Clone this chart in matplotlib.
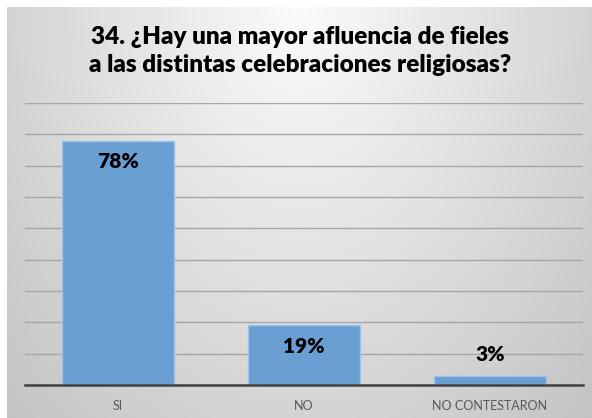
import numpy as np
import matplotlib.pyplot as plt

categories = ['SI', 'NO', 'NO CONTESTARON']
values = [0.78, 0.19, 0.03]
labels = ['78%', '19%', '3%']
label_inside = [True, True, False]
title = '34. ¿Hay una mayor afluencia de fieles\na las distintas celebraciones religiosas?'

bar_color = '#6a9fd4'
edge_color = '#9dc3e6'

plt.rcParams['font.family'] = ['Lato', 'DejaVu Sans']

W, H = 592, 418
fig = plt.figure(figsize=(W / 100, H / 100), dpi=100)
fig.patch.set_facecolor('white')

# chart area background, light at the top centre, gray toward the edges
bg = fig.add_axes([7 / W, 0, 1 - 7 / W, (H - 7) / H])
bg.set_axis_off()
yy, xx = np.mgrid[0:1:200j, 0:1:300j]
d = np.sqrt(((xx - 0.5) / 0.55) ** 2 + (yy / 1.1) ** 2)
shade = np.clip(0.985 - 0.17 * d, 0, 1)
bg.imshow(np.dstack([shade, shade, shade]), aspect='auto', extent=[0, 1, 1, 0])
bg.set_zorder(0)

ax = fig.add_axes([25 / W, (H - 385) / H, (583 - 25) / W, (385 - 103) / H])
ax.set_zorder(1)
ax.patch.set_alpha(0)

x = np.arange(len(categories))
ax.bar(x, values, width=0.605, color=bar_color, edgecolor=edge_color, linewidth=1, zorder=3)

ax.set_xlim(-0.5, len(categories) - 0.5)
ax.set_ylim(0, 0.9)
ax.set_yticks(np.arange(0, 0.91, 0.1))
ax.yaxis.grid(True, color='#a6a6a6', linewidth=1, zorder=1)
ax.tick_params(axis='y', left=False, labelleft=False)
ax.tick_params(axis='x', bottom=False, pad=7, labelsize=9, labelcolor='#595959')
ax.set_xticks(x)
ax.set_xticklabels(categories)
for s in ['top', 'right', 'left']:
    ax.spines[s].set_visible(False)
ax.spines['bottom'].set_color('#404040')
ax.spines['bottom'].set_linewidth(1.8)
ax.spines['bottom'].set_zorder(4)

for xi, v, lab, inside in zip(x, values, labels, label_inside):
    off = -21 if inside else 21
    ax.annotate(lab, (xi, v), xytext=(0, off), textcoords='offset pixels',
                ha='center', va='center', fontsize=15, fontweight='heavy',
                color='black', zorder=5)

fig.text(300 / W, (H - 51) / H, title, ha='center', va='center', fontsize=17.5,
         fontweight='heavy', color='black', linespacing=1.35)

fig.savefig('out.png', dpi=100)
